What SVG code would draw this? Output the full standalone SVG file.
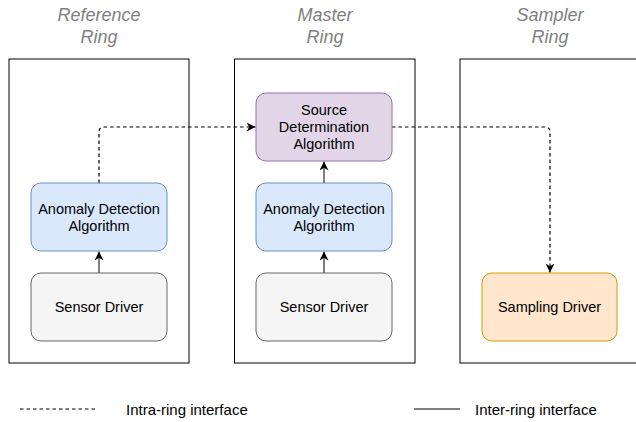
<svg xmlns="http://www.w3.org/2000/svg" width="636" height="422" viewBox="0 0 636 422">
  <style>
    .title { font-family: "Liberation Sans", Arial, sans-serif; font-size: 18px; font-style: italic; fill: #808080; text-anchor: middle; }
    .label { font-family: "Liberation Sans", Arial, sans-serif; font-size: 14.5px; fill: #000000; text-anchor: middle; }
    .legend { font-family: "Liberation Sans", Arial, sans-serif; font-size: 15px; fill: #000000; }
    .ring { fill: #ffffff; stroke: #000000; stroke-width: 1; }
    .blue { fill: #dae8fc; stroke: #6c8ebf; stroke-width: 1; }
    .grey { fill: #f5f5f5; stroke: #666666; stroke-width: 1; }
    .purple { fill: #e1d5e7; stroke: #9673a6; stroke-width: 1; }
    .orange { fill: #ffe6cc; stroke: #d79b00; stroke-width: 1; }
    .solid { fill: none; stroke: #000000; stroke-width: 1; }
    .dashed { fill: none; stroke: #000000; stroke-width: 1.2; stroke-dasharray: 3.5 3; }
  </style>
  <defs>
    <marker id="arrow" viewBox="0 0 10 10" refX="10" refY="5" markerWidth="9" markerHeight="9" markerUnits="userSpaceOnUse" orient="auto">
      <path d="M0,0 L10,5 L0,10 L3,5 Z" fill="#000000"/>
    </marker>
  </defs>

  <rect width="636" height="422" fill="#ffffff"/>

  <!-- ring titles -->
  <g id="titles">
    <text class="title" x="99" y="21">Reference</text>
    <text class="title" x="99" y="43">Ring</text>
    <text class="title" x="325" y="21">Master</text>
    <text class="title" x="325" y="43">Ring</text>
    <text class="title" x="550" y="21">Sampler</text>
    <text class="title" x="550" y="43">Ring</text>
  </g>

  <!-- ring containers -->
  <g id="reference-ring"><rect class="ring" x="9" y="59" width="180" height="304"/></g>
  <g id="master-ring"><rect class="ring" x="234.5" y="59" width="180.5" height="304"/></g>
  <g id="sampler-ring"><rect class="ring" x="460" y="59" width="190" height="304"/></g>

  <!-- connectors -->
  <g id="connectors">
    <path class="solid" d="M99,273 L99,251.5" marker-end="url(#arrow)"/>
    <path class="solid" d="M324,273 L324,251.5" marker-end="url(#arrow)"/>
    <path class="solid" d="M324,183 L324,161.5" marker-end="url(#arrow)"/>
    <path class="dashed" d="M99,183 L99,132 Q99,127 104,127 L255.5,127" marker-end="url(#arrow)"/>
    <path class="dashed" d="M392,127 L545,127 Q550,127 550,132 L550,272.5" marker-end="url(#arrow)"/>
  </g>

  <!-- reference ring nodes -->
  <g id="ref-anomaly">
    <rect class="blue" x="31" y="183" width="136" height="68" rx="10"/>
    <text class="label" x="99" y="214">Anomaly Detection</text>
    <text class="label" x="99" y="231">Algorithm</text>
  </g>
  <g id="ref-sensor">
    <rect class="grey" x="31" y="273" width="136" height="68" rx="10"/>
    <text class="label" x="99" y="312">Sensor Driver</text>
  </g>

  <!-- master ring nodes -->
  <g id="master-source">
    <rect class="purple" x="256" y="93" width="136" height="68" rx="10"/>
    <text class="label" x="324" y="115">Source</text>
    <text class="label" x="324" y="132">Determination</text>
    <text class="label" x="324" y="149">Algorithm</text>
  </g>
  <g id="master-anomaly">
    <rect class="blue" x="256" y="183" width="136" height="68" rx="10"/>
    <text class="label" x="324" y="214">Anomaly Detection</text>
    <text class="label" x="324" y="231">Algorithm</text>
  </g>
  <g id="master-sensor">
    <rect class="grey" x="256" y="273" width="136" height="68" rx="10"/>
    <text class="label" x="324" y="312">Sensor Driver</text>
  </g>

  <!-- sampler ring node -->
  <g id="sampling-driver">
    <rect class="orange" x="482" y="273" width="135" height="68" rx="10"/>
    <text class="label" x="549.5" y="312">Sampling Driver</text>
  </g>

  <!-- legend -->
  <g id="legend">
    <line class="dashed" x1="20" y1="409" x2="98" y2="409"/>
    <text class="legend" x="126" y="415">Intra-ring interface</text>
    <line class="solid" x1="414" y1="409" x2="460" y2="409"/>
    <text class="legend" x="475" y="415">Inter-ring interface</text>
  </g>
</svg>
